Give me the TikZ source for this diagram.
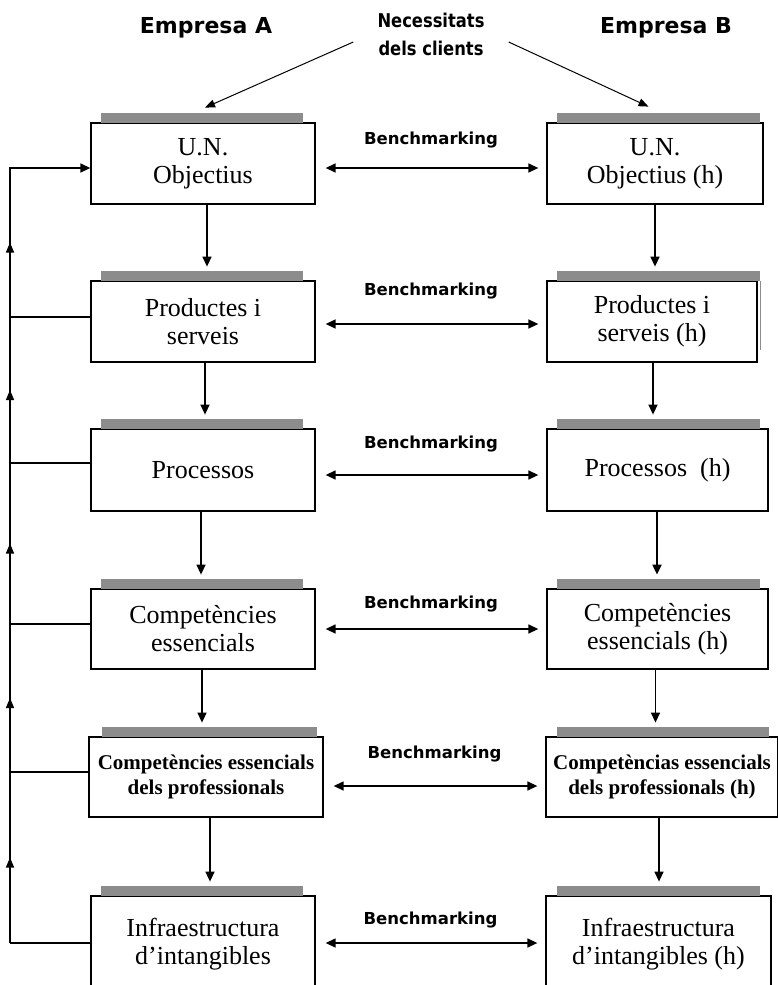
\documentclass[tikz,border=0pt]{standalone}
\usepackage{fontspec}
\setmainfont{Liberation Serif}
\newfontfamily\handfont{DejaVu Sans}
\usepackage{graphicx}
\usepackage{tikz}
\usetikzlibrary{arrows.meta,calc,positioning,decorations.markings}

\begin{document}
\begin{tikzpicture}[
  x=1pt, y=-1pt,
  box/.style={draw, line width=1.3pt, fill=white, inner sep=0pt, minimum height=81pt, align=center,
    font=\fontsize{26}{28}\selectfont},
  smallbox/.style={box, font=\bfseries\fontsize{21}{25}\selectfont},
  bar/.style={fill=gray!90, inner sep=0pt, minimum height=10pt, anchor=south},
  arr/.style={-{Triangle[length=10pt,width=9pt]}, line width=1.4pt},
  thinarr/.style={-{Triangle[length=10pt,width=8pt]}, line width=1pt},
  barr/.style={{Triangle[length=10pt,width=9pt]}-{Triangle[length=10pt,width=9pt]},
    line width=1.4pt, shorten <=10pt, shorten >=8pt},
  bench/.style={font=\handfont\bfseries\fontsize{16.5}{18}\selectfont, inner sep=0pt},
  head/.style={font=\handfont\bfseries\fontsize{22}{26}\selectfont, inner sep=0pt},
  loop/.style={line width=1.4pt},
  midarr/.style={loop, postaction={decorate},
    decoration={markings, mark=at position 0.5 with {\arrow{Triangle[length=10pt,width=8pt]}}}}
]
\useasboundingbox (0,0) rectangle (778,985);

% headings
\node[head] (empa) at (206,28) {Empresa A};
\node[head] (empb) at (666,28) {Empresa B};
\node[bench, align=center, font=\handfont\bfseries\fontsize{19}{28}\selectfont] (need) at (431,34)
  {\scalebox{0.86}[1]{Necessitats}\\\scalebox{0.86}[1]{dels clients}};

% Empresa A
\node[box, minimum width=224pt] (ua) at (203,163.5) {U.N.\\Objectius};
\node[box, minimum width=224pt] (pa) at (203,321.5) {Productes i\\serveis};
\node[box, minimum width=224pt, minimum height=82pt] (pra) at (203,470) {Processos};
\node[box, minimum width=224pt, minimum height=80pt] (ca) at (203,629) {Competències\\essencials};
\node[smallbox, minimum width=234pt, minimum height=80pt] (cpa) at (206,777) {Competències essencials\\dels professionals};
\node[box, minimum width=224pt, minimum height=96pt] (ia) at (203,944) {Infraestructura\\d’intangibles};

% Empresa B
\node[box, minimum width=216pt] (ub) at (655,163.5) {U.N.\\Objectius (h)};
\node[box, minimum width=210pt] (pb) at (652,321.5) {Productes i\\serveis (h)};
\node[box, minimum width=221pt, minimum height=82pt] (prb) at (657.5,470) {Processos~~(h)};
\node[box, minimum width=221pt, minimum height=80pt] (cb) at (657.5,629) {Competències\\essencials (h)};
\node[smallbox, minimum width=232pt, minimum height=80pt] (cpb) at (662,777) {Competèncias essencials\\dels professionals (h)};
\node[box, minimum width=225pt, minimum height=96pt] (ib) at (658.5,944) {Infraestructura\\d’intangibles (h)};

% grey bars on top of the boxes
\node[bar, minimum width=202pt] (uabar) at (202,123) {};
\node[bar, minimum width=202pt] (pabar) at (202,281) {};
\node[bar, minimum width=202pt] (prabar) at (202,429) {};
\node[bar, minimum width=202pt] (cabar) at (202,589) {};
\node[bar, minimum width=215pt] (cpabar) at (209.5,737) {};
\node[bar, minimum width=202pt] (iabar) at (202,896) {};
\node[bar, minimum width=203pt] (ubbar) at (658.5,123) {};
\node[bar, minimum width=203pt] (pbbar) at (658.5,281) {};
\node[bar, minimum width=203pt] (prbbar) at (658.5,429) {};
\node[bar, minimum width=203pt] (cbbar) at (658.5,589) {};
\node[bar, minimum width=212pt] (cpbbar) at (663,737) {};
\node[bar, minimum width=203pt] (ibbar) at (658.5,896) {};
\fill[gray!90] (pbbar.south east) rectangle ($(pb.east)+(3.5,28)$);

% customer needs
\draw[thinarr] ([xshift=-24pt,yshift=-8pt]need.west) -- ([xshift=3pt,yshift=5pt]uabar.north);
\draw[thinarr] ([xshift=24pt,yshift=-8pt]need.east) -- ([xshift=-10pt,yshift=6pt]ubbar.north);

% downwards in each company
\draw[arr, shorten >=4pt] ([xshift=4pt]ua.south) -- ([xshift=4pt]ua.south |- pabar.north);
\draw[arr, shorten >=4pt] ([xshift=2pt]pa.south) -- ([xshift=2pt]pa.south |- prabar.north);
\draw[arr, shorten >=4pt] ([xshift=-2pt]pra.south) -- ([xshift=-2pt]pra.south |- cabar.north);
\draw[arr, shorten >=4pt] ([xshift=-1pt]ca.south) -- ([xshift=-1pt]ca.south |- cpabar.north);
\draw[arr, shorten >=4pt] ([xshift=4pt]cpa.south) -- ([xshift=4pt]cpa.south |- iabar.north);
\draw[arr, shorten >=4pt] (ub.south) -- (ub.south |- pbbar.north);
\draw[arr, shorten >=4pt] ([xshift=1pt]pb.south) -- ([xshift=1pt]pb.south |- prbbar.north);
\draw[arr, shorten >=4pt, line width=2pt] ([xshift=-0.5pt]prb.south) -- ([xshift=-0.5pt]prb.south |- cbbar.north);
\draw[arr, shorten >=4pt] ([xshift=-2pt]cb.south) -- ([xshift=-2pt]cb.south |- cpbbar.north);
\draw[arr, shorten >=4pt] ([xshift=-3pt]cpb.south) -- ([xshift=-3pt]cpb.south |- ibbar.north);

% benchmarking between the two companies
\draw[barr] ([yshift=-4.5pt]ua.east) -- ([yshift=-4.5pt]ub.west) node[bench, midway, above=19pt] {Benchmarking};
\draw[barr] ([yshift=-2.5pt]pa.east) -- ([yshift=-2.5pt]pb.west) node[bench, midway, above=24pt] {Benchmarking};
\draw[barr] ([yshift=-5pt]pra.east) -- ([yshift=-5pt]prb.west) node[bench, midway, above=22pt] {Benchmarking};
\draw[barr] (ca.east) -- (cb.west) node[bench, midway, above=16pt] {Benchmarking};
\draw[barr] ([yshift=-9pt]cpa.east) -- ([yshift=-9pt]cpb.west) node[bench, midway, above=23pt] {Benchmarking};
\draw[barr] ([yshift=1pt]ia.east) -- ([yshift=1pt]ib.west) node[bench, midway, above=14pt] {Benchmarking};

% feedback loop on the left
\coordinate (lp1) at (10,168);
\coordinate (lp2) at (10,317);
\coordinate (lp3) at (10,463);
\coordinate (lp4) at (10,624);
\coordinate (lp5) at (10,772);
\coordinate (lp6) at (10,943);
\draw[loop] (lp6 -| ia.west) -- (lp6);
\draw[loop] (lp5 -| cpa.west) -- (lp5);
\draw[loop] (lp4 -| ca.west) -- (lp4);
\draw[loop] (lp3 -| pra.west) -- (lp3);
\draw[loop, line width=2.4pt] (lp2 -| pa.west) -- (lp2);
\draw[midarr] (lp6) -- (lp5);
\draw[midarr] (lp5) -- (lp4);
\draw[midarr] (lp4) -- (lp3);
\draw[midarr] (lp3) -- (lp2);
\draw[midarr] (lp2) -- (lp1);
\draw[arr, line cap=rect] (lp1) -- (lp1 -| ua.west);
\end{tikzpicture}
\end{document}
